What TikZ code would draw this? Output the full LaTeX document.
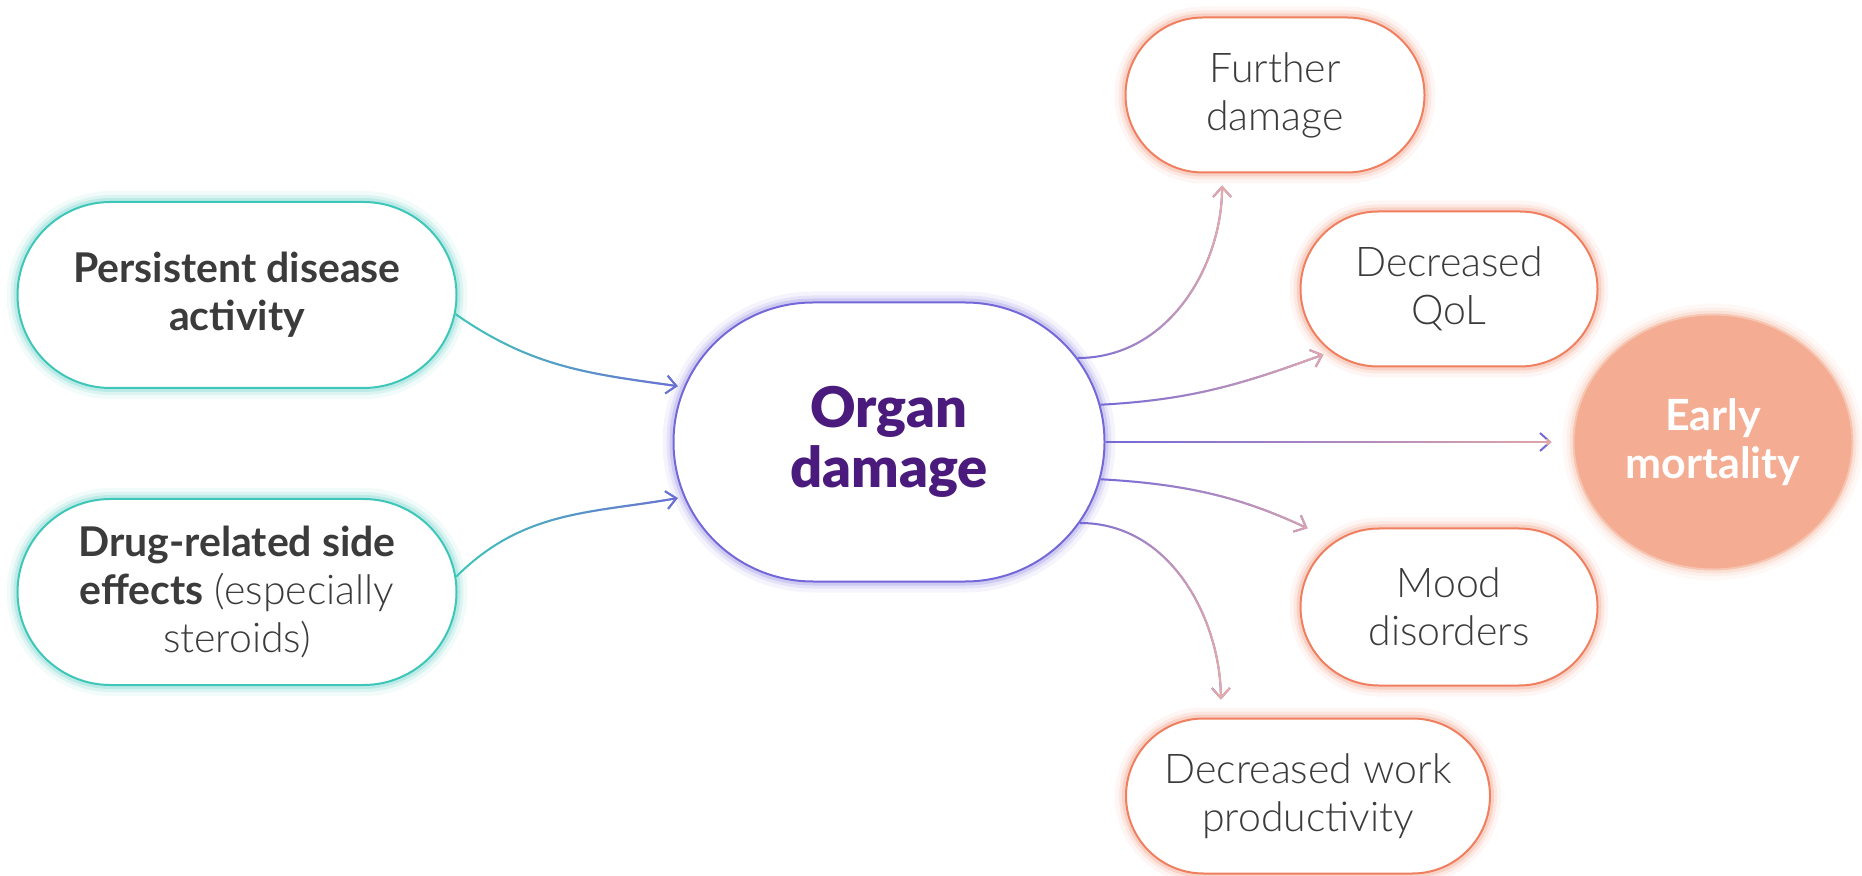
\documentclass[tikz,border=0pt]{standalone}
\usepackage{fontspec}
\setmainfont{Lato}
\newfontfamily\lightfont{Lato Light}
\newfontfamily\heavyfont{Lato Black}
\usetikzlibrary{shapes.misc,shapes.geometric,arrows.meta,fadings}

\definecolor{tealline}{HTML}{3EC6B9}
\definecolor{purpleline}{HTML}{7468D8}
\definecolor{pinkline}{HTML}{E6AAA6}
\definecolor{coralline}{HTML}{EF7F5E}
\definecolor{earlyfill}{HTML}{F4AD93}
\definecolor{organtext}{HTML}{4B1A7D}
\definecolor{boxtext}{HTML}{3B3B3B}

\begin{document}
\begin{tikzpicture}[x=0.5pt,y=0.5pt,
    glow/.style={preaction={draw=#1,line width=11pt,opacity=0.07},
                 preaction={draw=#1,line width=7pt,opacity=0.12},
                 preaction={draw=#1,line width=4pt,opacity=0.2}},
    pill/.style={rounded rectangle,fill=white,line width=1pt,align=center,inner sep=0pt,
                 text=boxtext,font=\fontsize{20.5}{24}\selectfont\lightfont},
    cause/.style={pill,draw=tealline,glow=tealline,minimum width=219.5pt,minimum height=93pt},
    hub/.style={pill,draw=purpleline,glow=purpleline,minimum width=215.5pt,minimum height=139.5pt,
                text=organtext,font=\fontsize{28}{30}\selectfont\heavyfont},
    effect/.style={pill,draw=coralline,glow=coralline,minimum height=77.5pt},
    link/.style 2 args={line width=1pt,draw=#1,-{Straight Barb[length=5pt,width=9pt]},
                 postaction={draw=#2,path fading=west}},
  ]
  \useasboundingbox (0,0) rectangle (1862,-876);

  % causes and the hub
  \node[cause] (persist) at (237,-295) {\normalfont\bfseries Persistent disease\\\normalfont\bfseries activity};
  \node[cause] (drug) at (237,-592) {\normalfont\bfseries Drug-related side\\{\normalfont\bfseries effects} (especially\\steroids)};
  \node[hub] (organ) at (889,-442) {Organ\\damage};

  % consequences
  \node[effect,minimum width=149.5pt] (further) at (1275,-95) {Further\\damage};
  \node[effect,minimum width=148.5pt] (qol) at (1449,-289) {Decreased\\QoL};
  \node[ellipse,fill=earlyfill,draw=earlyfill!70!white,line width=1pt,glow=earlyfill,
        minimum width=139.5pt,minimum height=127.5pt,inner sep=0pt,align=center,
        text=white,font=\fontsize{21.5}{24}\selectfont\bfseries] (early) at (1713,-442) {Early\\mortality};
  \node[effect,minimum width=148.5pt,minimum height=78.5pt] (mood) at (1449,-607) {Mood\\disorders};
  \node[effect,minimum width=182pt] (work) at (1308,-796) {Decreased work\\productivity};

  \draw[link={tealline}{purpleline},shorten >=3pt] (persist.-5) to[out=-35,in=172] (organ.165);
  \draw[link={tealline}{purpleline},shorten >=3pt] (drug.4) to[out=45,in=190] (organ.195);

  \draw[link={purpleline}{pinkline},shorten >=6pt] (organ.24) to[out=0,in=-90] (further.236);
  \draw[link={purpleline}{pinkline},shorten >=4pt] (organ.10) to[out=3,in=200] (qol.208);
  \draw[link={purpleline}{pinkline},shorten >=10.5pt] (organ.0) -- (early.180);
  \draw[link={purpleline}{pinkline},shorten >=15pt] (organ.-10) to[out=-3,in=155] (mood.150);
  \draw[link={purpleline}{pinkline},shorten >=9pt] (organ.-23) to[out=0,in=90] (work.138);
\end{tikzpicture}
\end{document}
